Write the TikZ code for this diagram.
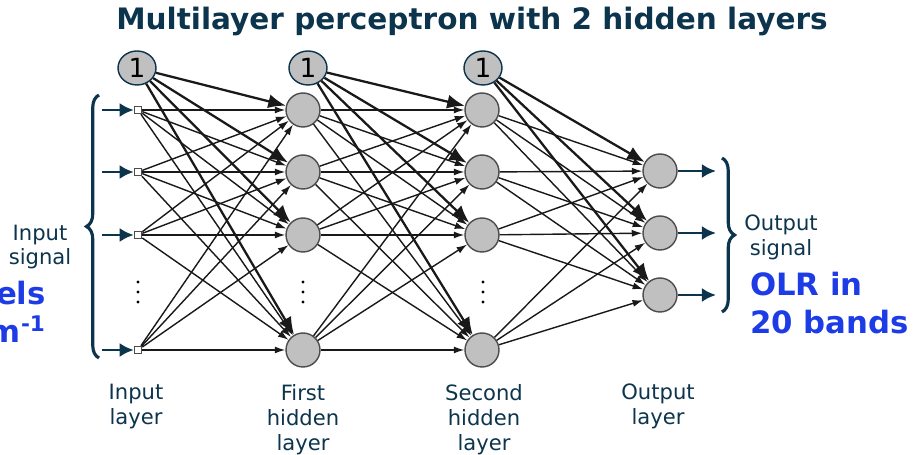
\documentclass[tikz,border=0pt]{standalone}
\usepackage{fontspec}
\setmainfont{DejaVu Sans}
\usetikzlibrary{arrows.meta,decorations.pathreplacing,shapes.geometric}

\definecolor{navy}{RGB}{12,52,77}
\definecolor{olrblue}{RGB}{30,60,230}
\definecolor{cellgray}{RGB}{192,192,192}

\tikzset{
  neuron/.style={circle,draw=black!70,fill=cellgray,line width=0.8pt,minimum size=0.68cm,inner sep=0pt},
  bias/.style={ellipse,draw=navy,fill=cellgray,line width=0.8pt,minimum width=0.76cm,minimum height=0.68cm,inner sep=0pt,font=\fontsize{15}{15}\selectfont},
  inbox/.style={rectangle,draw=black!70,fill=white,line width=0.6pt,minimum size=0.15cm,inner sep=0pt},
  wire/.style={-{Latex[length=6pt,width=4pt]},line width=0.8pt,black!90},
  biaswire/.style={-{Latex[length=10pt,width=8pt]},line width=1.3pt,black!90},
  sig/.style={-{Latex[length=8pt,width=8pt]},line width=1.7pt,navy},
  lbl/.style={text=navy,align=center,font=\fontsize{12}{14.2}\selectfont},
  big/.style={text=olrblue,font=\bfseries\fontsize{17.5}{22}\selectfont},
  brc/.style={decorate,decoration={brace,amplitude=0.25cm},line width=1.8pt,navy}
}

\begin{document}
\begin{tikzpicture}[x=0.02cm,y=-0.02cm]
\useasboundingbox (0,0) rectangle (913,455);

\node[text=navy,font=\bfseries\fontsize{16.8}{19}\selectfont] (title) at (472,21) {Multilayer perceptron with 2 hidden layers};

% bias units
\node[bias] (biasA) at (137,68) {1};
\node[bias] (biasB) at (308,68) {1};
\node[bias] (biasC) at (483,68) {1};

% layers
\foreach \i/\y in {1/110,2/172,3/235,4/350} {
  \node[inbox] (in\i) at (138,\y) {};
  \node[neuron] (hA\i) at (303,\y) {};
  \node[neuron] (hB\i) at (482,\y) {};
  \coordinate (src\i) at (102,\y);
}
\foreach \k/\y in {1/171,2/233,3/295} {
  \node[neuron] (out\k) at (660,\y) {};
  \coordinate (dst\k) at (716,\y);
}

% dots
\foreach \x in {138,303,483}
  \foreach \y in {282,292,302}
    \fill (\x,\y) circle (1.6);

% weights
\foreach \i in {1,...,4}
  \foreach \j in {1,...,4} {
    \draw[wire] (in\i) -- (hA\j);
    \draw[wire] (hA\i) -- (hB\j);
  }
\foreach \i in {1,...,4}
  \foreach \k in {1,2,3}
    \draw[wire] (hB\i) -- (out\k);

\foreach \j in {1,...,4} {
  \draw[biaswire] (biasA) -- (hA\j);
  \draw[biaswire] (biasB) -- (hB\j);
}
\foreach \k in {1,2,3}
  \draw[biaswire] (biasC) -- (out\k);

% signals in and out
\foreach \i in {1,...,4}
  \draw[sig] (src\i) -- (in\i);
\foreach \k in {1,2,3}
  \draw[sig] (out\k) -- (dst\k);

\draw[brc] (99,358) -- (99,95);
\draw[brc] (722,158) -- (722,312);

\node[lbl] (insig) at (40,247) {Input\\signal};
\node[lbl] (outsig) at (781,237) {Output\\signal};
\node[big,anchor=east,align=right] (chan) at (52,312) {channels\\cm\textsuperscript{-1}};
\node[big,anchor=west,align=left] (olr) at (744,303) {OLR in\\20 bands};

\node[lbl,anchor=north] (lin) at (136,378) {Input\\layer};
\node[lbl,anchor=north] (lhA) at (303,378) {First\\hidden\\layer};
\node[lbl,anchor=north] (lhB) at (484,378) {Second\\hidden\\layer};
\node[lbl,anchor=north] (lout) at (658,378) {Output\\layer};
\end{tikzpicture}
\end{document}
